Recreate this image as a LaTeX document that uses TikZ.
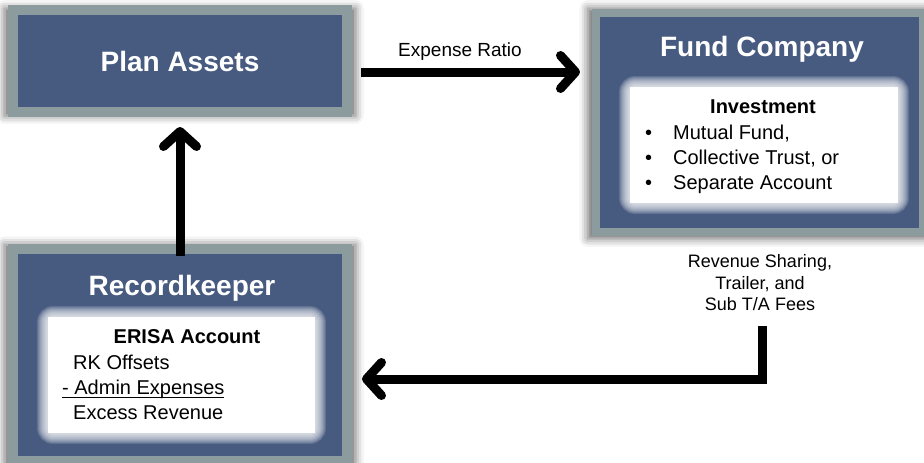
\documentclass[tikz,border=0pt]{standalone}
\usepackage{fontspec}
\setmainfont{Liberation Sans}
\usetikzlibrary{arrows.meta,positioning,shadows.blur}

\definecolor{boxblue}{RGB}{71,90,128}
\definecolor{rimgray}{RGB}{140,155,157}

\newcommand{\lowline}[1]{{\setbox0\hbox{#1}\rlap{\rule[-3.5pt]{\wd0}{1pt}}\box0}}

\begin{document}
\begin{tikzpicture}[x=1pt, y=-1pt,
  party/.style={draw=rimgray, line width=10pt, fill=boxblue, inner sep=0pt,
    blur shadow={shadow xshift=0pt, shadow yshift=-1pt, shadow scale=1.05,
      shadow blur radius=8pt, shadow opacity=60}},
  boxtitle/.style={text=white, font=\fontsize{28}{32}\selectfont\bfseries},
  inbox/.style={fill=white, inner sep=0pt},
  glow/.style={draw=white, draw opacity=.13, rounded corners=6pt},
  intext/.style={font=\fontsize{20}{25}\selectfont, align=left, inner sep=0pt},
  inhead/.style={font=\fontsize{20}{25}\selectfont\bfseries, inner sep=0pt},
  note/.style={font=\fontsize{18}{21.5}\selectfont, align=center},
  flow/.style={line width=9pt, -{Straight Barb[length=15pt, width=33pt, round]}}]

\useasboundingbox (0,0) rectangle (924,463);

% the three parties
\node[party, boxtitle, minimum width=334pt, minimum height=102pt] (plan) at (180,61) {Plan Assets};
\node[party, line width=8pt, minimum width=327pt, minimum height=219pt] (fund) at (759.5,122.5) {};
\node[party, minimum width=334pt, minimum height=212pt] (rk) at (180,355) {};
\node[boxtitle] (fundtitle) at (762,49) {Fund Company};
\node[boxtitle] (rktitle) at (182,288) {Recordkeeper};

% inner white boxes with a soft halo
\node[inbox, minimum width=268pt, minimum height=116pt] (invest) at (764,145) {};
\node[inbox, minimum width=267pt, minimum height=116pt] (erisa) at (181.5,375) {};
\foreach \g in {1,...,11} {
  \draw[glow, line width=\g*2pt] (invest.north west) rectangle (invest.south east);
  \draw[glow, line width=\g*2pt] (erisa.north west) rectangle (erisa.south east);
}

\node[inhead] (investhead) at (763,107) {Investment};
\node[intext, anchor=north west] (investlist) at (645,125)
  {\makebox[28pt][l]{\textbullet}Mutual Fund,\\
   \makebox[28pt][l]{\textbullet}Collective Trust, or\\
   \makebox[28pt][l]{\textbullet}Separate Account};

\node[inhead] (erisahead) at (187,337) {ERISA Account};
\node[intext, anchor=north west] (erisalist) at (62,355)
  {\hspace{11pt}RK Offsets\\
   \lowline{- Admin Expenses}\\
   \hspace{11pt}Excess Revenue};

% flows
\node[note, font=\fontsize{19}{22}\selectfont] (erlabel) at (460,52) {Expense Ratio};
\node[note] (rev) at (760,283) {Revenue Sharing,\\Trailer, and\\Sub T/A Fees};

\draw[flow] ([xshift=9pt, yshift=-11pt]plan.east) -- ([xshift=-12pt, yshift=-11pt]plan.east -| fund.west);
\draw[flow] ([yshift=-12pt]rk.north) -- ([yshift=-10pt]plan.south);
\draw[flow] ([xshift=2pt, yshift=-11pt]rev.south) |- ([xshift=10pt, yshift=-24pt]rk.east);
\end{tikzpicture}
\end{document}
